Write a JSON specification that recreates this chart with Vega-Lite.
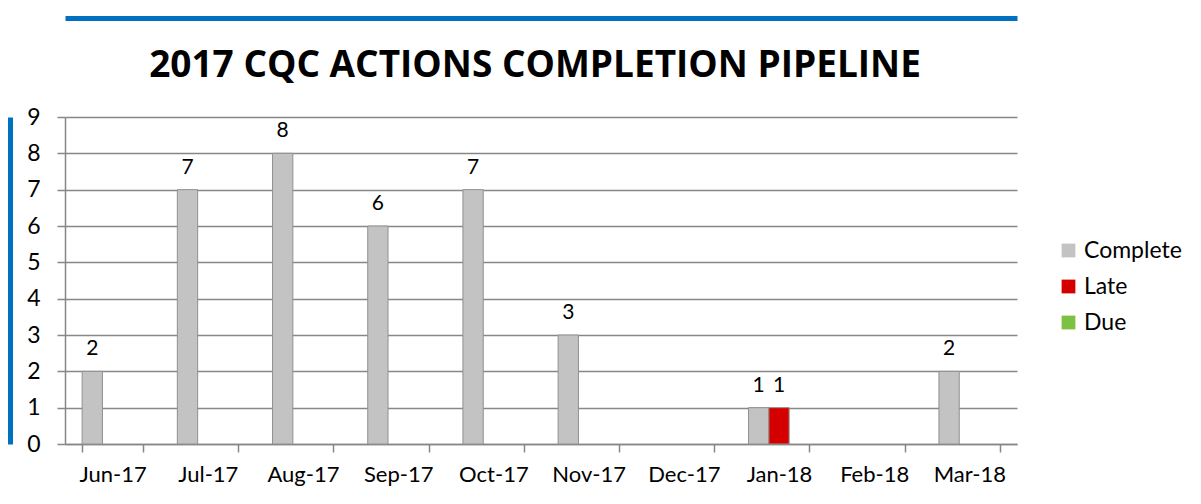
{
  "$schema": "https://vega.github.io/schema/vega-lite/v6.json",
  "width": 952,
  "height": 327,
  "autosize": {"type": "none"},
  "padding": {"left": 65, "top": 117, "right": 184, "bottom": 60},
  "background": "white",
  "title": {"text": "2017 CQC ACTIONS COMPLETION PIPELINE", "font": "Open Sans", "fontSize": 37, "fontWeight": "bold", "color": "#000000", "anchor": "middle", "dx": -6, "offset": -67},
  "data": {"values": [
    {"month": "Jun-17", "status": "Complete", "count": 2},
    {"month": "Jul-17", "status": "Complete", "count": 7},
    {"month": "Aug-17", "status": "Complete", "count": 8},
    {"month": "Sep-17", "status": "Complete", "count": 6},
    {"month": "Oct-17", "status": "Complete", "count": 7},
    {"month": "Nov-17", "status": "Complete", "count": 3},
    {"month": "Jan-18", "status": "Complete", "count": 1},
    {"month": "Jan-18", "status": "Late", "count": 1},
    {"month": "Mar-18", "status": "Complete", "count": 2}
  ]},
  "layer": [
    {
      "mark": {"type": "bar", "stroke": "#909090", "strokeWidth": 1},
      "encoding": {
        "x": {"field": "month", "type": "nominal",
          "scale": {"domain": ["Jun-17","Jul-17","Aug-17","Sep-17","Oct-17","Nov-17","Dec-17","Jan-18","Feb-18","Mar-18"], "paddingInner": 0.36, "paddingOuter": 0.18},
          "axis": {"title": null, "labelAngle": 0, "tickBand": "extent", "tickSize": 8, "tickColor": "#878787", "tickWidth": 1.5, "domainColor": "#878787", "domainWidth": 1.5, "labelFont": "Lato", "labelFontSize": 22, "labelColor": "#000000", "labelPadding": 12, "grid": false}},
        "xOffset": {"field": "status", "type": "nominal", "scale": {"domain": ["Complete", "Late", "Due"]}},
        "y": {"field": "count", "type": "quantitative",
          "scale": {"domain": [0, 9], "nice": false},
          "axis": {"title": null, "values": [0,1,2,3,4,5,6,7,8,9], "labelOverlap": false, "grid": true, "gridColor": "#878787", "gridWidth": 1.5, "tickSize": 8, "tickColor": "#878787", "tickWidth": 1.5, "domainColor": "#878787", "domainWidth": 1.5, "labelFont": "Lato", "labelFontSize": 23, "labelColor": "#000000", "labelPadding": 17}},
        "color": {"field": "status", "type": "nominal",
          "scale": {"domain": ["Complete", "Late", "Due"], "range": ["#C3C3C3", "#D40000", "#7DC142"]},
          "legend": {"title": null, "orient": "none", "legendX": 992, "legendY": 122, "symbolType": "square", "symbolSize": 190, "symbolStrokeWidth": 0, "labelFont": "Lato", "labelFontSize": 23, "labelColor": "#000000", "rowPadding": 12, "labelOffset": 4, "padding": 0}}
      }
    },
    {
      "mark": {"type": "text", "baseline": "bottom", "dy": -12, "font": "Lato", "fontSize": 21, "color": "#000000"},
      "encoding": {
        "x": {"field": "month", "type": "nominal", "axis": {"orient": "top", "title": null, "labels": false, "ticks": false, "domainColor": "#0070C0", "domainWidth": 5, "offset": 99, "grid": false}},
        "xOffset": {"field": "status", "type": "nominal"},
        "y": {"field": "count", "type": "quantitative", "axis": {"orient": "left", "title": null, "labels": false, "ticks": false, "grid": false, "domainColor": "#0070C0", "domainWidth": 5, "offset": 55}},
        "text": {"field": "count", "type": "quantitative"}
      }
    }
  ],
  "resolve": {"axis": {"x": "independent", "y": "independent"}},
  "config": {"view": {"stroke": null}}
}
